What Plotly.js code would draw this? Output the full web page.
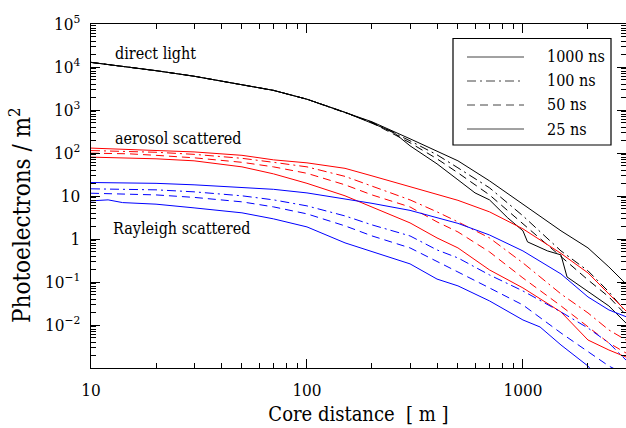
<!DOCTYPE html>
<html>
<head>
<meta charset="utf-8">
<script src="https://cdn.plot.ly/plotly-3.0.1.min.js"></script>
<style>
html,body{margin:0;padding:0;overflow:hidden;background:#fff;}
#chart{width:626px;height:428px;}
</style>
</head>
<body>
<div id="chart"></div>
<script>
// ---- data (core distance in m, photoelectrons per m^2) ----
const distance = [10,15,20,30,50,70,100,150,200,300,400,500,700,1000,1500,2000,2500,3000];
const distanceDirect25 = [10,15,20,30,50,70,100,150,200,250,300,400,500,600,700,850,1000,1050,1300,1500,1600,2000,2500,3000];
const distanceRayleigh25 = [10,12,14,20,30,50,70,100,150,200,300,400,500,700,1000,1200,1500,2000,2200];

const direct1000 = [12800,10000,8220,6100,3930,2860,1780,885,532,214,112,65.8,22.5,6.56,1.55,0.621,0.224,0.0902];
const direct100  = [12800,10000,8220,6100,3930,2860,1780,885,518,192,90.8,45.2,15.5,3.45,0.528,0.182,0.0588,0.0201];
const direct50   = [12800,10000,8220,6100,3930,2860,1780,885,505,173,73.3,34.6,10.6,2.25,0.405,0.112,0.045,0.0171];
const direct25   = [12800,10000,8220,6100,3930,2860,1780,885,491,311,147,56.0,23.8,11.8,8.13,3.10,1.55,0.857,0.528,0.427,0.131,0.0588,0.0277,0.0111];

const aerosol1000 = [130,122,115,106,88.3,69.3,59.0,44.0,29.4,16.3,10.6,7.93,4.28,1.72,0.462,0.163,0.0527,0.0212];
const aerosol100  = [114,109,104,93.1,75.2,60.7,47.6,28.6,17.2,8.13,4.28,2.50,1.06,0.278,0.0527,0.0191,0.00766,0.00448];
const aerosol50   = [99.3,95.7,88.3,77.3,60.7,47.6,33.7,18.2,10.6,5.56,2.50,1.46,0.501,0.124,0.0278,0.00902,0.00382,0.00223];
const aerosol25   = [80.2,77.3,73.3,65.8,47.6,32.7,19.7,10.1,5.45,2.37,1.06,0.621,0.191,0.0728,0.0201,0.00448,0.00262,0.0018];

const rayleigh1000 = [20.6,20.2,19.7,18.2,15.9,14.3,11.8,8.57,6.75,4.63,3.10,2.31,1.24,0.528,0.154,0.0449,0.0224,0.0156];
const rayleigh100  = [14.7,14.3,13.9,12.5,10.1,8.13,5.89,3.44,2.13,1.18,0.557,0.363,0.146,0.0619,0.0201,0.00851,0.00382,0.00153];
const rayleigh50   = [11.6,11.2,10.6,9.29,7.31,5.58,3.84,2.02,1.18,0.621,0.293,0.171,0.0728,0.0292,0.00652,0.00236,0.00111,0.0007];
const rayleigh25   = [7.71,8.13,7.03,6.46,5.30,4.06,2.94,1.91,0.813,0.501,0.264,0.117,0.0813,0.0363,0.0131,0.0090,0.00343,0.00111,0.00063];

const legendLabels = ['1000 ns','100 ns','50 ns','25 ns'];
const groupLabels = ['direct light','aerosol scattered','Rayleigh scattered'];

const xTickVals = [10,100,1000];
const xTickText = ['10','100','1000'];
const xMinorVals = [20,30,40,50,60,70,80,90,200,300,400,500,600,700,800,900,2000,3000];
const yTickVals = [1e5,1e4,1e3,100,10,1,0.1,0.01];
const yTickText = ['10<sup>5</sup>','10<sup>4</sup>','10<sup>3</sup>','10<sup>2</sup>','10','1','10<sup>\u22121</sup>','10<sup>\u22122</sup>'];
const yMinorVals = [];
[0.001,0.01,0.1,1,10,100,1000,10000].forEach(function(d){ [2,3,4,5,6,7,8,9].forEach(function(m){ yMinorVals.push(+(d*m).toPrecision(3)); }); });

// ---- styles ----
const FONT = 'DejaVu Serif Condensed, DejaVu Serif';
const DASHDOT = '9px,4px,2px,4px';
const DASH = '8px,5px';
function tr(x, y, color, dash){
  return {x:x, y:y, type:'scatter', mode:'lines', hoverinfo:'skip',
          line:{color:color, width:1, dash:dash}};
}
const traces = [
  tr(distance, direct1000, '#000000', 'solid'),
  tr(distance, direct100, '#000000', DASHDOT),
  tr(distance, direct50, '#000000', DASH),
  tr(distanceDirect25, direct25, '#000000', 'solid'),
  tr(distance, aerosol1000, '#ff0000', 'solid'),
  tr(distance, aerosol100, '#ff0000', DASHDOT),
  tr(distance, aerosol50, '#ff0000', DASH),
  tr(distance, aerosol25, '#ff0000', 'solid'),
  tr(distance, rayleigh1000, '#0000ff', 'solid'),
  tr(distance, rayleigh100, '#0000ff', DASHDOT),
  tr(distance, rayleigh50, '#0000ff', DASH),
  tr(distanceRayleigh25, rayleigh25, '#0000ff', 'solid')
];

// ---- custom legend (box, sample lines, labels) in paper coordinates ----
const W = 535, H = 344, L0 = 91, T0 = 24;
function px(xp){ return (xp - L0) / W; }
function py(yp){ return (T0 + H - yp) / H; }
const legendDash = ['solid', DASHDOT, DASH, 'solid'];
const legendRows = [57, 81, 105, 129];
const shapes = [{type:'rect', xref:'paper', yref:'paper', x0:px(453), x1:px(611), y0:py(145), y1:py(38.5),
                 line:{color:'#000', width:1.2}, fillcolor:'rgba(0,0,0,0)', layer:'above'}];
const annotations = [];
legendLabels.forEach(function(lbl, i){
  shapes.push({type:'line', xref:'paper', yref:'paper', x0:px(467), x1:px(524), y0:py(legendRows[i]), y1:py(legendRows[i]),
               line:{color:'#444', width:1, dash:legendDash[i]}});
  annotations.push({xref:'paper', yref:'paper', x:px(545), y:py(legendRows[i]), xanchor:'left', yanchor:'middle',
                    text:lbl, showarrow:false, font:{family:FONT, size:16}});
});
// group labels
const groupPos = [[113,53],[113,138],[111,229]];
groupLabels.forEach(function(lbl, i){
  annotations.push({xref:'paper', yref:'paper', x:px(groupPos[i][0]), y:py(groupPos[i][1]), xanchor:'left', yanchor:'middle',
                    text:lbl, showarrow:false, font:{family:FONT, size:16}});
});
// y axis title
annotations.push({xref:'paper', yref:'paper', x:px(20), y:py(215), xanchor:'center', yanchor:'middle', textangle:-90,
                  text:'Photoelectrons / m<sup>2</sup>', showarrow:false, font:{family:FONT, size:24}});

const axisCommon = {ticks:'inside', ticklen:9, tickwidth:1, tickcolor:'#000', showline:true, linecolor:'#000', linewidth:1.3,
                    mirror:'ticks', showgrid:false, zeroline:false, tickmode:'array',
                    tickfont:{family:FONT, size:17, color:'#000'}};
const layout = {
  width:626, height:428,
  margin:{l:91, r:0, t:24, b:60, pad:0},
  paper_bgcolor:'#fff', plot_bgcolor:'#fff',
  font:{family:FONT, size:17, color:'#000'},
  showlegend:false,
  xaxis:Object.assign({}, axisCommon, {type:'log', range:[1, Math.log10(3000)], tickvals:xTickVals, ticktext:xTickText,
         ticklabelstandoff:6,
         minor:{tickmode:'array', tickvals:xMinorVals, ticks:'inside', ticklen:5, tickwidth:1, tickcolor:'#000', showgrid:false},
         title:{text:'Core distance \u00a0[ m ]', font:{family:FONT, size:20}, standoff:8}}),
  yaxis:Object.assign({}, axisCommon, {type:'log', range:[-3,5], tickvals:yTickVals, ticktext:yTickText,
         ticklabelstandoff:6,
         minor:{tickmode:'array', tickvals:yMinorVals, ticks:'inside', ticklen:5, tickwidth:1, tickcolor:'#000', showgrid:false}}),
  shapes:shapes,
  annotations:annotations
};
Plotly.newPlot('chart', traces, layout, {staticPlot:true, displayModeBar:false});
</script>
</body>
</html>
